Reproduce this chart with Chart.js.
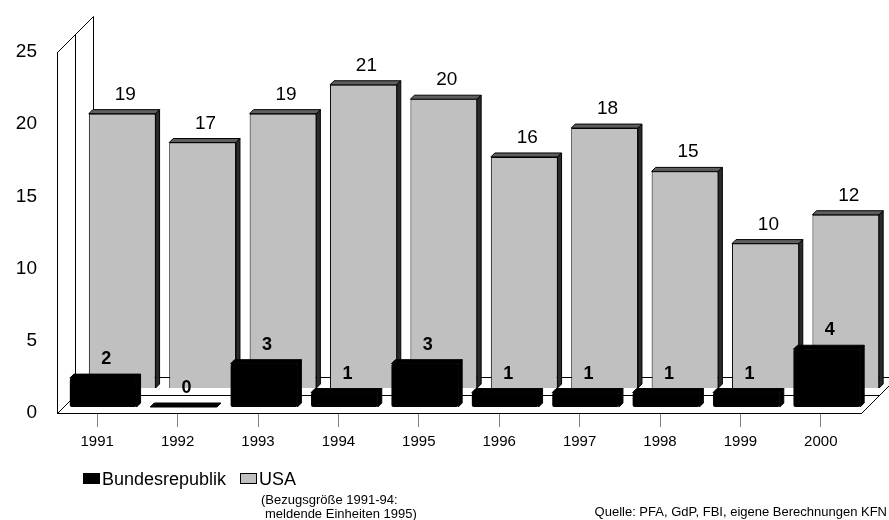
<!DOCTYPE html>
<html>
<head>
<meta charset="utf-8">
<title>Bundesrepublik / USA 1991-2000</title>
<script src="https://cdn.jsdelivr.net/npm/chart.js@4.4.1/dist/chart.umd.min.js"></script>
<style>
  html, body { margin: 0; padding: 0; background: #fff; }
  canvas { display: block; }
</style>
</head>
<body>
<canvas id="chart" width="889" height="520"></canvas>
<script>
const years = ["1991", "1992", "1993", "1994", "1995", "1996", "1997", "1998", "1999", "2000"];
const bundesrepublik = [2, 0, 3, 1, 3, 1, 1, 1, 1, 4];
const usa = [19, 17, 19, 21, 20, 16, 18, 15, 10, 12];
const yTicks = [0, 5, 10, 15, 20, 25];
const noteLines = ["(Bezugsgröße 1991-94:", "meldende Einheiten 1995)"];
const sourceText = "Quelle: PFA, GdP, FBI, eigene Berechnungen KFN";

const FONT = "'Liberation Sans', Arial, sans-serif";
const FLOOR_DEPTH = 36;      // depth of the 3d floor / side wall
const BAR_DEPTH = 4;         // depth of each bar (top + side face)
const rowShift = [6, 25];    // dataset 0 = front row, dataset 1 = back row

// walls and floor, drawn under the bars
const floorAndWall = {
    id: "floorAndWall",
    beforeDatasetsDraw(chart) {
        const ctx = chart.ctx;
        const x = chart.scales.x, y = chart.scales.y;
        const L = x.left + 0.5, R = x.right + 0.5;
        const B = Math.round(y.getPixelForValue(0)) + 0.5;
        const T = Math.round(y.getPixelForValue(25)) + 0.5;
        const D = FLOOR_DEPTH, h = FLOOR_DEPTH / 2;

        ctx.save();
        ctx.strokeStyle = "#000";
        ctx.lineWidth = 1;
        ctx.beginPath();
        // floor
        ctx.moveTo(L, B); ctx.lineTo(R, B);
        ctx.moveTo(L, B); ctx.lineTo(L + D, B - D);
        ctx.moveTo(R, B); ctx.lineTo(R + D, B - D);
        ctx.moveTo(L + h, B - h); ctx.lineTo(R + h, B - h);
        ctx.moveTo(L + D, B - D); ctx.lineTo(R + D, B - D);
        // left wall
        ctx.moveTo(L, B); ctx.lineTo(L, T);
        ctx.moveTo(L + h, B - h); ctx.lineTo(L + h, T - h);
        ctx.moveTo(L + D, B - D); ctx.lineTo(L + D, T - D);
        ctx.moveTo(L, T); ctx.lineTo(L + D, T - D);
        ctx.stroke();
        ctx.restore();
    }
};

// shift each row back into depth and add top / side faces
const depthBars = {
    id: "depthBars",
    beforeDatasetDraw(chart, args) {
        const s = rowShift[args.index];
        chart.ctx.save();
        chart.ctx.translate(s, -s);
    },
    afterDatasetDraw(chart, args) {
        const ctx = chart.ctx;
        const d = BAR_DEPTH;
        const front = args.index === 0;
        const topColor = front ? "#000" : "#5f5f5f";
        const sideColor = front ? "#000" : "#2a2a2a";

        args.meta.data.forEach(bar => {
            const x1 = bar.x - bar.width / 2;
            const x2 = bar.x + bar.width / 2;
            const top = bar.y;
            const base = bar.base;

            ctx.lineWidth = 1;
            ctx.strokeStyle = "#000";

            ctx.beginPath();
            ctx.moveTo(x1, top);
            ctx.lineTo(x1 + d, top - d);
            ctx.lineTo(x2 + d, top - d);
            ctx.lineTo(x2, top);
            ctx.closePath();
            ctx.fillStyle = topColor;
            ctx.fill();
            ctx.stroke();

            ctx.beginPath();
            ctx.moveTo(x2, top);
            ctx.lineTo(x2 + d, top - d);
            ctx.lineTo(x2 + d, base - d);
            ctx.lineTo(x2, base);
            ctx.closePath();
            ctx.fillStyle = sideColor;
            ctx.fill();
            ctx.stroke();
        });
        ctx.restore();
    }
};

// value labels above the bars
const valueLabels = {
    id: "valueLabels",
    afterDatasetsDraw(chart) {
        const ctx = chart.ctx;
        ctx.save();
        ctx.fillStyle = "#000";
        ctx.textAlign = "center";
        ctx.textBaseline = "alphabetic";
        chart.data.datasets.forEach((ds, i) => {
            const s = rowShift[i];
            ctx.font = i === 0 ? "bold 18px " + FONT : "19px " + FONT;
            chart.getDatasetMeta(i).data.forEach((bar, j) => {
                const tx = bar.x + s + BAR_DEPTH / 2 + 1;
                const ty = bar.y - s - BAR_DEPTH - 10;
                ctx.fillText(String(ds.data[j]), tx, ty);
            });
        });
        ctx.restore();
    }
};

// legend and notes under the axis
const legendAndNotes = {
    id: "legendAndNotes",
    afterDraw(chart) {
        const ctx = chart.ctx;
        const ds = chart.data.datasets;
        ctx.save();
        ctx.textBaseline = "alphabetic";
        ctx.textAlign = "left";
        ctx.font = "18px " + FONT;

        ctx.fillStyle = ds[0].backgroundColor;
        ctx.fillRect(83, 473, 17, 11);
        ctx.fillStyle = "#000";
        ctx.fillText(ds[0].label, 102, 485);

        ctx.fillStyle = ds[1].backgroundColor;
        ctx.fillRect(240, 473, 17, 11);
        ctx.strokeStyle = "#000";
        ctx.lineWidth = 1;
        ctx.strokeRect(240.5, 473.5, 16, 10);
        ctx.fillStyle = "#000";
        ctx.fillText(ds[1].label, 259, 485);

        ctx.font = "13px " + FONT;
        ctx.fillText(noteLines[0], 261, 504);
        ctx.fillText(noteLines[1], 265, 518);

        ctx.textAlign = "right";
        ctx.fillText(sourceText, 887, 516);
        ctx.restore();
    }
};

const ctx = document.getElementById("chart").getContext("2d");

new Chart(ctx, {
    type: "bar",
    data: {
        labels: years,
        datasets: [
            {
                label: "Bundesrepublik",
                data: bundesrepublik,
                backgroundColor: "#000",
                borderWidth: 0,
                borderRadius: 2,
                borderSkipped: false,
                grouped: false,
                clip: false,
                barPercentage: 0.83,
                categoryPercentage: 1
            },
            {
                label: "USA",
                data: usa,
                backgroundColor: "#c0c0c0",
                borderColor: "#000",
                borderWidth: 1,
                grouped: false,
                clip: false,
                barPercentage: 0.83,
                categoryPercentage: 1
            }
        ]
    },
    options: {
        responsive: false,
        animation: false,
        events: [],
        layout: { padding: { top: 52, right: 28, left: 0, bottom: 0 } },
        plugins: {
            legend: { display: false },
            tooltip: { enabled: false }
        },
        scales: {
            x: {
                offset: true,
                grid: {
                    display: true,
                    drawOnChartArea: false,
                    drawTicks: true,
                    tickLength: 14,
                    tickColor: "#808080",
                    offset: false
                },
                border: { display: true, color: "#000", width: 1 },
                ticks: {
                    color: "#000",
                    font: { family: FONT, size: 15 },
                    padding: 6,
                    maxRotation: 0,
                    autoSkip: false
                },
                afterFit(scale) { scale.height = 107; }
            },
            y: {
                min: 0,
                max: 25,
                grid: { display: false, drawTicks: false },
                border: { display: true, color: "#000", width: 1 },
                ticks: {
                    color: "#000",
                    font: { family: FONT, size: 19 },
                    padding: 20
                },
                afterBuildTicks(scale) {
                    scale.ticks = yTicks.map(v => ({ value: v }));
                },
                afterFit(scale) { scale.width = 57; }
            }
        }
    },
    plugins: [floorAndWall, depthBars, valueLabels, legendAndNotes]
});
</script>
</body>
</html>
